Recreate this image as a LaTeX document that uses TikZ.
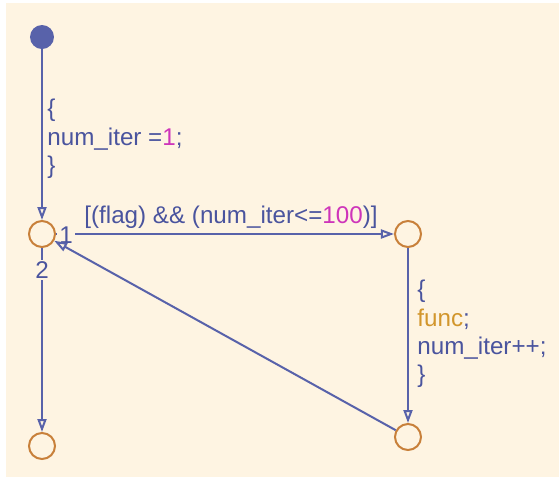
\documentclass[tikz,border=0pt]{standalone}
\usepackage{fontspec}
\setmainfont{Liberation Sans}
\usepackage{xcolor}
\usetikzlibrary{positioning, arrows.meta}

\definecolor{chartbg}{RGB}{254,244,226}
\definecolor{transblue}{RGB}{88,98,170}
\definecolor{textblue}{RGB}{74,84,158}
\definecolor{juncorange}{RGB}{200,128,58}
\definecolor{numpink}{RGB}{206,52,186}
\definecolor{funcgold}{RGB}{210,150,44}

\tikzset{
  junction/.style={circle, draw=juncorange, line width=1pt, minimum size=13pt, inner sep=0pt},
  initdot/.style={circle, fill=transblue, minimum size=12pt, inner sep=0pt},
  trans/.style={draw=transblue, line width=1pt, -{Triangle[open, length=6.5pt, width=4.5pt]}},
  lbl/.style={inner sep=0pt, text=textblue, align=left},
  order/.style={inner sep=1pt, text=textblue, fill=chartbg}
}

\begin{document}
\begin{tikzpicture}[x=0.5pt, y=-0.5pt, every node/.style={font=\fontsize{12.1}{14.2}\selectfont}]
\useasboundingbox (0,0) rectangle (559,479);
\fill[chartbg] (6,3) rectangle (559,477);

% ---- states ----
\node[initdot]  (init) at (42,37)   {};
\node[junction] (jA)   at (42,234)  {};
\node[junction] (jB)   at (408,234) {};
\node[junction] (jC)   at (408,437) {};
\node[junction] (jD)   at (42,446)  {};

% ---- transitions ----
\draw[trans] (init) -- (jA);
\draw[trans] (jA) -- (jB);
\draw[trans] (jB) -- (jC);
\draw[trans] (jA) -- (jD);
% execution order numbers sit on the outgoing lines
\node[order] (ord1) at (66,235) {1};
\node[order] (ord2) at (42,270) {2};
\draw[trans] (jC) -- (jA);

% ---- labels ----
\node[lbl, anchor=west] (initact) at (47,139) {\{\\num\_iter =\textcolor{numpink}{1};\\\}};
\node[lbl, anchor=west] (guard) at (84,217) {[(flag) \&\& (num\_iter<=\textcolor{numpink}{100})]};
\node[lbl, anchor=west] (loopact) at (417,334) {\{\\\textcolor{funcgold}{func};\\num\_iter++;\\\}};
\end{tikzpicture}
\end{document}
